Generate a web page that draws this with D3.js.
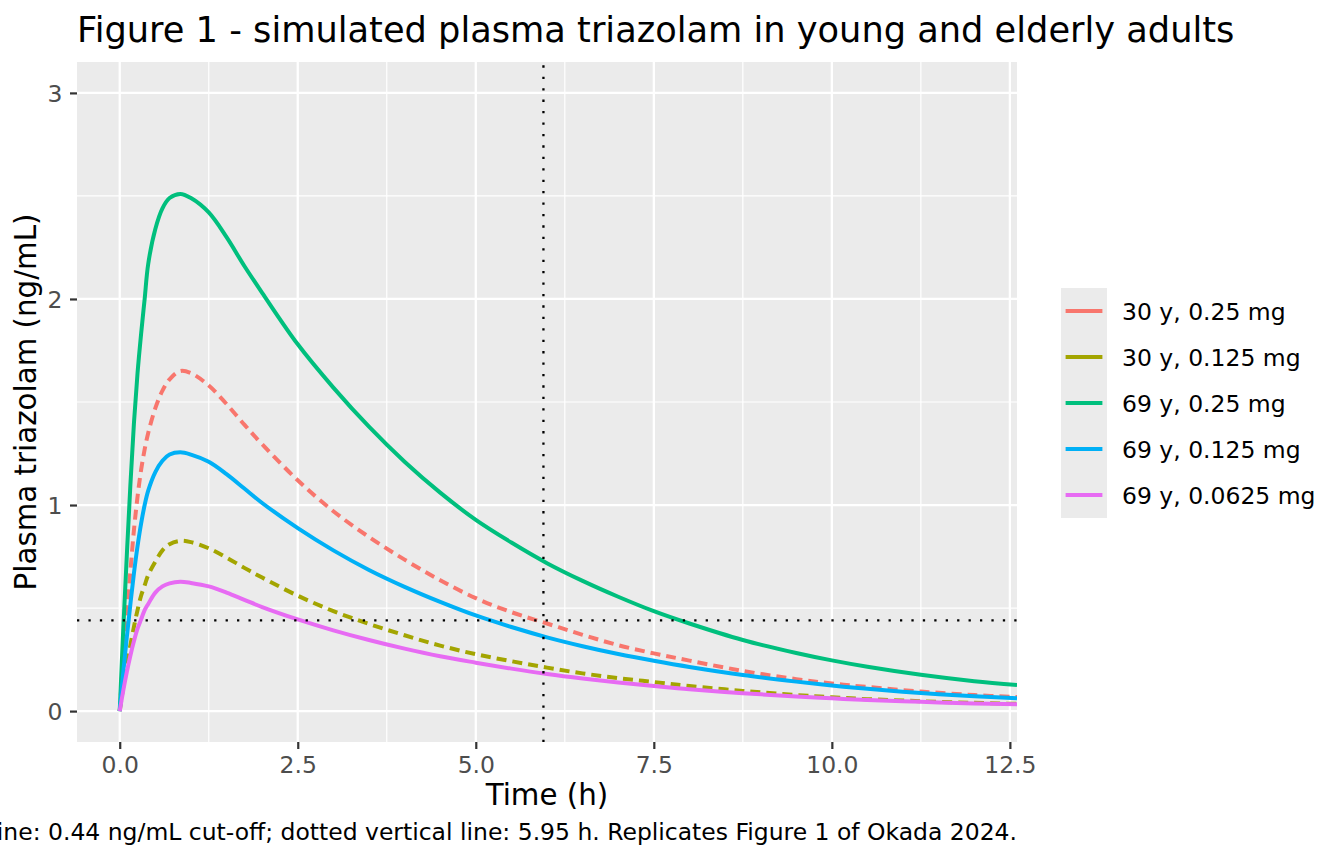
<!DOCTYPE html>
<html>
<head>
<meta charset="utf-8">
<script src="https://cdn.jsdelivr.net/npm/d3@7"></script>
<style>
  body { margin: 0; background: #fff; }
  text { font-family: "DejaVu Sans", sans-serif; }
</style>
</head>
<body>
<svg id="chart" width="1344" height="864"></svg>
<script>
// values (hours, ng/mL)
const times = [0, 0.05, 0.1, 0.15, 0.2, 0.25, 0.3, 0.35, 0.4, 0.5, 0.6, 0.7, 0.85, 1.0, 1.25, 1.5, 1.75, 2.0,
  2.5, 3.0, 3.5, 4.0, 4.5, 5.0, 5.5, 6.0, 6.5, 7.0, 7.5, 8.0, 8.75, 9.5, 10, 10.5, 11.25, 12, 12.6];

const young025 = [0, 0.26, 0.48, 0.68, 0.88, 1.04, 1.17, 1.27, 1.35, 1.47, 1.555, 1.61, 1.65, 1.64, 1.58, 1.49, 1.39, 1.295,
  1.12, 0.97, 0.845, 0.735, 0.635, 0.548, 0.48, 0.425, 0.37, 0.32, 0.28, 0.245, 0.195, 0.155, 0.134, 0.117, 0.095, 0.078, 0.068];
const young0125 = [0, 0.12, 0.23, 0.32, 0.41, 0.49, 0.56, 0.61, 0.66, 0.725, 0.78, 0.81, 0.826, 0.82, 0.79, 0.745, 0.695, 0.648,
  0.56, 0.485, 0.423, 0.368, 0.318, 0.276, 0.242, 0.211, 0.183, 0.16, 0.141, 0.122, 0.098, 0.078, 0.067, 0.058, 0.048, 0.04, 0.035];
const elderly025 = [0, 0.40, 0.76, 1.10, 1.40, 1.64, 1.83, 2.00, 2.17, 2.34, 2.44, 2.49, 2.51, 2.49, 2.42, 2.30, 2.16, 2.03,
  1.78, 1.57, 1.38, 1.21, 1.06, 0.928, 0.818, 0.718, 0.632, 0.555, 0.485, 0.425, 0.345, 0.282, 0.246, 0.215, 0.176, 0.145, 0.126];
const elderly0125 = [0, 0.19, 0.36, 0.52, 0.67, 0.80, 0.91, 1.00, 1.07, 1.16, 1.215, 1.245, 1.256, 1.245, 1.21, 1.15, 1.08, 1.01,
  0.888, 0.78, 0.685, 0.603, 0.53, 0.464, 0.408, 0.358, 0.315, 0.277, 0.244, 0.214, 0.175, 0.143, 0.124, 0.108, 0.088, 0.072, 0.062];
const elderly00625 = [0, 0.10, 0.19, 0.27, 0.34, 0.40, 0.445, 0.49, 0.52, 0.575, 0.605, 0.62, 0.628, 0.622, 0.605, 0.575, 0.54, 0.505,
  0.445, 0.392, 0.345, 0.303, 0.266, 0.235, 0.206, 0.18, 0.158, 0.139, 0.122, 0.106, 0.087, 0.071, 0.062, 0.054, 0.045, 0.037, 0.033];

const seriesNames = ["30 y, 0.25 mg", "30 y, 0.125 mg", "69 y, 0.25 mg", "69 y, 0.125 mg", "69 y, 0.0625 mg"];
const seriesValues = [young025, young0125, elderly025, elderly0125, elderly00625];
const seriesColors = ["#F8766D", "#A3A500", "#00BF7D", "#00B0F6", "#E76BF3"];
const seriesDashed = [true, true, false, false, false];

const xTicks = [0, 2.5, 5, 7.5, 10, 12.5];
const xMinor = [1.25, 3.75, 6.25, 8.75, 11.25];
const yTicks = [0, 1, 2, 3];
const yMinor = [0.5, 1.5, 2.5];

const cutoff = 0.44;
const tVertical = 5.95;

const titleText = "Figure 1 - simulated plasma triazolam in young and elderly adults";
const captionText = "Dotted horizontal line: 0.44 ng/mL cut-off; dotted vertical line: 5.95 h. Replicates Figure 1 of Okada 2024.";

// layout
const panel = { left: 77, right: 1017, top: 62, bottom: 742 };
const svg = d3.select("#chart");

const x = d3.scaleLinear().domain([-0.6, 12.6]).range([panel.left, panel.right]);
const y = d3.scaleLinear().domain([-0.15, 3.15]).range([panel.bottom, panel.top]);

svg.append("rect").attr("width", 1344).attr("height", 864).attr("fill", "#fff");

// panel background + grid
svg.append("rect")
    .attr("x", panel.left).attr("y", panel.top)
    .attr("width", panel.right - panel.left).attr("height", panel.bottom - panel.top)
    .attr("fill", "#EBEBEB");

const grid = svg.append("g");
grid.selectAll(".xminor").data(xMinor).enter().append("line")
    .attr("x1", d => x(d)).attr("x2", d => x(d))
    .attr("y1", panel.top).attr("y2", panel.bottom)
    .attr("stroke", "#fff").attr("stroke-width", 1.2);
grid.selectAll(".yminor").data(yMinor).enter().append("line")
    .attr("y1", d => y(d)).attr("y2", d => y(d))
    .attr("x1", panel.left).attr("x2", panel.right)
    .attr("stroke", "#fff").attr("stroke-width", 1.2);
grid.selectAll(".xmajor").data(xTicks).enter().append("line")
    .attr("x1", d => x(d)).attr("x2", d => x(d))
    .attr("y1", panel.top).attr("y2", panel.bottom)
    .attr("stroke", "#fff").attr("stroke-width", 2.3);
grid.selectAll(".ymajor").data(yTicks).enter().append("line")
    .attr("y1", d => y(d)).attr("y2", d => y(d))
    .attr("x1", panel.left).attr("x2", panel.right)
    .attr("stroke", "#fff").attr("stroke-width", 2.3);

// clip for curves
svg.append("clipPath").attr("id", "clip")
    .append("rect")
    .attr("x", panel.left).attr("y", panel.top)
    .attr("width", panel.right - panel.left).attr("height", panel.bottom - panel.top);

const line = d3.line()
    .x((d, i) => x(times[i]))
    .y(d => y(d))
    .curve(d3.curveCatmullRom.alpha(0.5));

const curves = svg.append("g").attr("clip-path", "url(#clip)");
seriesValues.forEach((vals, k) => {
    curves.append("path")
        .datum(vals)
        .attr("d", line)
        .attr("fill", "none")
        .attr("stroke", seriesColors[k])
        .attr("stroke-width", 4)
        .attr("stroke-dasharray", seriesDashed[k] ? "10,6" : null);
});

// reference lines (dotted)
curves.append("line")
    .attr("x1", panel.left).attr("x2", panel.right)
    .attr("y1", y(cutoff)).attr("y2", y(cutoff))
    .attr("stroke", "#000").attr("stroke-width", 2.3)
    .attr("stroke-dasharray", "2.3,9.13");
curves.append("line")
    .attr("x1", x(tVertical)).attr("x2", x(tVertical))
    .attr("y1", panel.bottom).attr("y2", panel.top)
    .attr("stroke", "#000").attr("stroke-width", 2.3)
    .attr("stroke-dasharray", "2.3,9.13");

// axes
const xAxis = d3.axisBottom(x)
    .tickValues(xTicks)
    .tickFormat(d3.format(".1f"))
    .tickSize(7).tickSizeOuter(0).tickPadding(7.5);
const yAxis = d3.axisLeft(y)
    .tickValues(yTicks)
    .tickFormat(d3.format("d"))
    .tickSize(7).tickSizeOuter(0).tickPadding(7.5);

function styleAxis(g) {
    g.attr("font-size", 23.47).attr("font-family", "DejaVu Sans");
    g.select(".domain").remove();
    g.selectAll(".tick line").attr("stroke", "#333333").attr("stroke-width", 2.2);
    g.selectAll(".tick text").attr("fill", "#4D4D4D");
}

svg.append("g")
    .attr("transform", `translate(0,${panel.bottom})`)
    .call(xAxis)
    .call(styleAxis);

svg.append("g")
    .attr("transform", `translate(${panel.left},0)`)
    .call(yAxis)
    .call(styleAxis)
    .call(g => g.selectAll(".tick text").attr("dy", "0.36em"));

// axis titles
svg.append("text")
    .attr("x", (panel.left + panel.right) / 2).attr("y", 805)
    .attr("text-anchor", "middle")
    .attr("font-size", 29.33)
    .text("Time (h)");

svg.append("text")
    .attr("transform", `translate(36,${(panel.top + panel.bottom) / 2}) rotate(-90)`)
    .attr("text-anchor", "middle")
    .attr("font-size", 29.33)
    .text("Plasma triazolam (ng/mL)");

// title
svg.append("text")
    .attr("x", 77).attr("y", 41.7)
    .attr("font-size", 35.2)
    .text(titleText);

// caption, right-aligned to the panel like the reference (it runs past the left edge there too)
svg.append("text")
    .attr("x", panel.right).attr("y", 840)
    .attr("text-anchor", "end")
    .attr("font-size", 23.47)
    .text(captionText);

// legend
const keySize = 46;
const legend = svg.append("g").attr("transform", "translate(1061,288)");
legend.append("rect")
    .attr("width", keySize).attr("height", keySize * seriesNames.length)
    .attr("fill", "#EBEBEB");
seriesNames.forEach((name, k) => {
    const cy = k * keySize + keySize / 2;
    legend.append("line")
        .attr("x1", keySize * 0.1).attr("x2", keySize * 0.9)
        .attr("y1", cy).attr("y2", cy)
        .attr("stroke", seriesColors[k]).attr("stroke-width", 4);
    legend.append("text")
        .attr("x", 61).attr("y", cy + 8.5)
        .attr("font-size", 23.47)
        .text(name);
});
</script>
</body>
</html>
